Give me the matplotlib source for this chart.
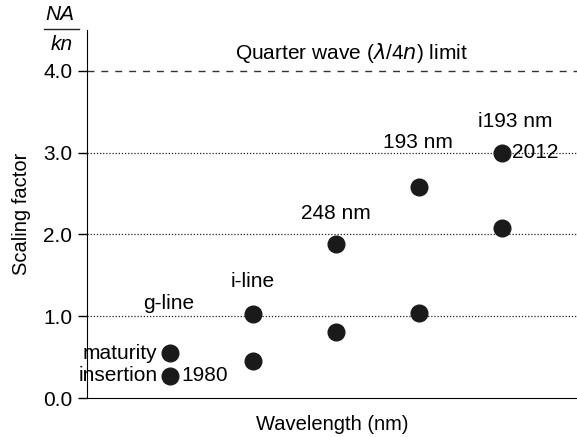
import matplotlib.pyplot as plt
from matplotlib.lines import Line2D

plt.rcParams['font.family'] = ['Liberation Sans', 'DejaVu Sans']

# node positions (one per generation) and the two scaling-factor values
nodes = [1, 2, 3, 4, 5]
node_names = ["g-line", "i-line", "248 nm", "193 nm", "i193 nm"]
maturity = [0.55, 1.03, 1.88, 2.58, 3.0]
insertion = [0.27, 0.45, 0.81, 1.04, 2.08]
dotted_levels = [1.0, 2.0, 3.0]
limit = 4.0
yticks = [0.0, 1.0, 2.0, 3.0, 4.0]

fig = plt.figure(figsize=(5.77, 4.37), dpi=100)
ax = fig.add_axes([87/577, 1 - 398/437, 490/577, (398-30)/437])

fs = 15
ax.axhline(limit, color='#333333', lw=1, ls=(0, (5, 5)))
for lev in dotted_levels:
    ax.axhline(lev, color='#222222', lw=0.9, ls=(0, (1, 1.5)))

ax.plot(nodes, maturity, 'o', color='#1a1a1a', ms=12, zorder=3)
ax.plot(nodes, insertion, 'o', color='#1a1a1a', ms=12, zorder=3)

# node names above the upper points
name_dx = [-0.02, 0.0, 0.0, -0.02, 0.16]
name_dy = [0.61, 0.39, 0.38, 0.54, 0.38]
for x, y, name, dx, dy in zip(nodes, maturity, node_names, name_dx, name_dy):
    ax.text(x + dx, y + dy, name, ha='center', va='center', fontsize=fs)
ax.text(nodes[0] - 0.15, maturity[0], "maturity", ha='right', va='center', fontsize=fs)
ax.text(nodes[0] - 0.15, insertion[0], "insertion", ha='right', va='center', fontsize=fs)
ax.text(nodes[0] + 0.14, insertion[0], "1980", ha='left', va='center', fontsize=fs)
ax.text(nodes[4] + 0.12, maturity[4], "2012", ha='left', va='center', fontsize=fs)

ax.text(3.18, limit + 0.22, r"Quarter wave ($\lambda$/4$n$) limit", ha='center', va='center',
        fontsize=fs)

ax.set_xlim(0, 5.9)
ax.set_ylim(0, 4.5)
ax.set_yticks(yticks)
ax.set_yticklabels([f"{v:.1f}" for v in yticks], fontsize=fs)
ax.set_xticks([])
ax.tick_params(axis='y', direction='out', length=6.5, width=1, pad=4)
ax.spines['top'].set_visible(False)
ax.spines['right'].set_visible(False)
ax.set_xlabel("Wavelength (nm)", fontsize=14.5, labelpad=12)
ax.set_ylabel("Scaling factor", fontsize=14.5, labelpad=9)

# NA/kn fraction above the y axis
fig.text(60/577, 1 - 15/437, "NA", style='italic', ha='center', va='center', fontsize=fs)
fig.text(62/577, 1 - 44/437, "kn", style='italic', ha='center', va='center', fontsize=fs)
fig.add_artist(Line2D([44/577, 79/577], [1 - 29/437, 1 - 29/437], color='#222222', lw=1))

fig.savefig("out.png", dpi=100)
